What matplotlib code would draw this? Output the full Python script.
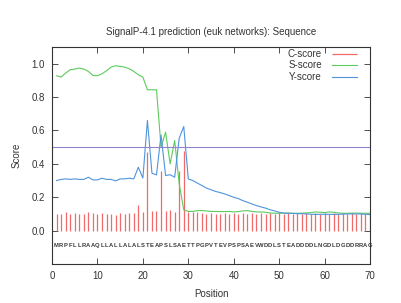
import numpy as np
import matplotlib
matplotlib.use("Agg")
import matplotlib.pyplot as plt

plt.rcParams['font.family'] = ['Liberation Sans', 'DejaVu Sans']

sequence = "MRPFLLRAAQLLALLALALSTEAPSLSAETTPGPVTEVPSPSAEVWDDLSTEADDDDLNGDLDGDDRRAG"
positions = np.arange(1, 71)

c_score = [0.10, 0.10, 0.11, 0.10, 0.105, 0.10, 0.10, 0.11, 0.105, 0.10,
           0.105, 0.10, 0.10, 0.095, 0.105, 0.10, 0.105, 0.105, 0.155, 0.11,
           0.47, 0.12, 0.115, 0.36, 0.115, 0.125, 0.11, 0.36, 0.48, 0.11,
           0.11, 0.11, 0.105, 0.10, 0.105, 0.10, 0.10, 0.105, 0.10, 0.105,
           0.10, 0.105, 0.10, 0.105, 0.10, 0.105, 0.10, 0.105, 0.10, 0.105,
           0.10, 0.105, 0.10, 0.105, 0.10, 0.105, 0.10, 0.105, 0.10, 0.105,
           0.10, 0.105, 0.10, 0.105, 0.10, 0.105, 0.10, 0.105, 0.10, 0.10]

s_score = [0.928, 0.92, 0.944, 0.964, 0.968, 0.974, 0.968, 0.954, 0.93, 0.928,
           0.94, 0.958, 0.98, 0.988, 0.984, 0.98, 0.97, 0.954, 0.934, 0.92,
           0.844, 0.844, 0.844, 0.50, 0.59, 0.40, 0.54, 0.28, 0.125, 0.115,
           0.115, 0.12, 0.12, 0.118, 0.115, 0.115, 0.114, 0.114, 0.115, 0.112,
           0.114, 0.118, 0.12, 0.115, 0.112, 0.112, 0.11, 0.106, 0.104, 0.104,
           0.105, 0.105, 0.104, 0.104, 0.105, 0.106, 0.108, 0.112, 0.11, 0.108,
           0.112, 0.11, 0.106, 0.104, 0.104, 0.105, 0.105, 0.104, 0.104, 0.104]

y_score = [0.30, 0.307, 0.31, 0.307, 0.31, 0.307, 0.307, 0.32, 0.304, 0.304,
           0.314, 0.307, 0.307, 0.298, 0.31, 0.31, 0.314, 0.31, 0.38, 0.315,
           0.66, 0.344, 0.334, 0.574, 0.33, 0.335, 0.32, 0.554, 0.624, 0.31,
           0.30, 0.285, 0.27, 0.255, 0.245, 0.235, 0.228, 0.22, 0.21, 0.20,
           0.192, 0.18, 0.17, 0.16, 0.15, 0.142, 0.135, 0.125, 0.118, 0.11,
           0.105, 0.104, 0.103, 0.102, 0.101, 0.100, 0.098, 0.097, 0.098, 0.098,
           0.098, 0.097, 0.098, 0.099, 0.10, 0.10, 0.10, 0.10, 0.098, 0.096]

threshold = 0.5

fig = plt.figure(figsize=(4.02, 3.03), dpi=100)
ax = fig.add_axes([0.1294, 0.1287, 0.791, 0.716])

ax.vlines(positions, 0, c_score, color='#f06a6a', linewidth=0.9, label='C-score')
ax.plot(positions, s_score, color='#5ccc5c', linewidth=0.8, label='S-score')
ax.plot(positions, y_score, color='#4f94dc', linewidth=0.8, label='Y-score')
ax.axhline(threshold, color='#9382cc', linewidth=0.8)

# amino acid letters under the bars
for p, aa in zip(positions, sequence):
    ax.text(p, -0.09, aa, fontsize=4.2, fontweight='bold', color='#3a3a3a',
            ha='center', va='center')

ax.set_xlim(0, 70)
ax.set_ylim(-0.2, 1.1)
ax.set_xticks(range(0, 71, 10))
ax.set_yticks([0.0, 0.2, 0.4, 0.6, 0.8, 1.0])
ax.set_yticklabels(['0.0', '0.2', '0.4', '0.6', '0.8', '1.0'])
ax.tick_params(direction='in', top=True, right=True, length=4, width=0.6,
               labelsize=7, colors='#333333', pad=5)
for sp in ax.spines.values():
    sp.set_color('#333333')
    sp.set_linewidth(0.8)

ax.set_title('SignalP-4.1 prediction (euk networks): Sequence', fontsize=7,
             color='#333333', pad=9)
ax.set_xlabel('Position', fontsize=7, color='#333333', labelpad=6)
ax.set_ylabel('Score', fontsize=7, color='#333333', labelpad=7)

ax.legend(loc='upper right', bbox_to_anchor=(0.965, 1.0), frameon=False,
          markerfirst=False, fontsize=7, handlelength=2.6, handletextpad=1.0,
          labelspacing=0.15, borderaxespad=0.0, borderpad=0.2,
          labelcolor='#333333')

fig.savefig('out.png', dpi=100)
